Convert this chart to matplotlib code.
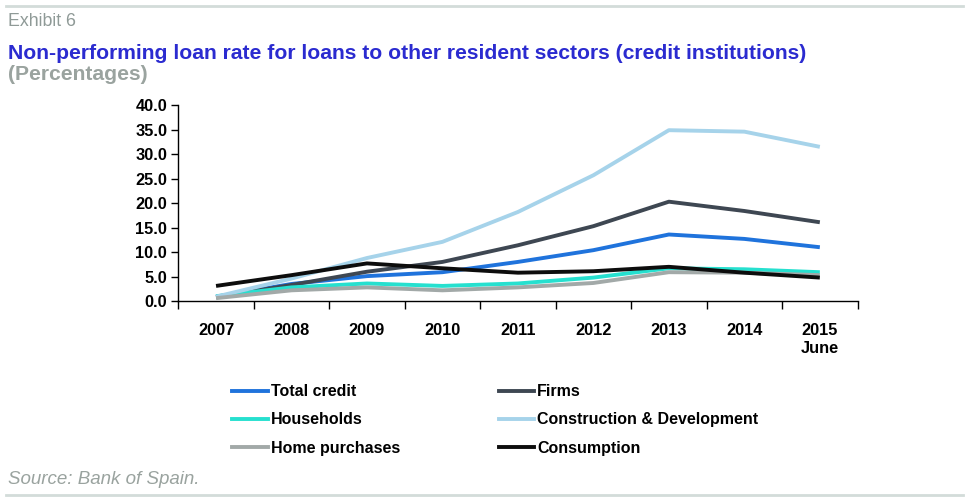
import matplotlib.pyplot as plt
from matplotlib.lines import Line2D
import numpy as np

plt.rcParams['font.family'] = ['Liberation Sans', 'DejaVu Sans']

years = ["2007", "2008", "2009", "2010", "2011", "2012", "2013", "2014", "2015\nJune"]
total_credit = [0.9, 3.5, 5.1, 5.9, 8.0, 10.4, 13.6, 12.7, 11.0]
firms = [0.8, 3.3, 6.0, 8.0, 11.4, 15.3, 20.3, 18.4, 16.1]
households = [1.0, 2.8, 3.6, 3.1, 3.6, 4.8, 6.7, 6.5, 5.9]
construction = [0.9, 4.6, 8.8, 12.1, 18.2, 25.7, 34.9, 34.6, 31.5]
home_purchases = [0.6, 2.2, 2.8, 2.2, 2.8, 3.7, 5.9, 5.8, 5.3]
consumption = [3.1, 5.3, 7.7, 6.7, 5.8, 6.1, 7.0, 5.8, 4.8]

series = [
    ("Total credit", total_credit, "#1f73dc"),
    ("Firms", firms, "#3e4752"),
    ("Households", households, "#26e0cf"),
    ("Construction & Development", construction, "#a6d3ea"),
    ("Home purchases", home_purchases, "#a2a9a8"),
    ("Consumption", consumption, "#0d0d0d"),
]

fig = plt.figure(figsize=(9.69, 5.01), dpi=100)
ax = fig.add_axes([0.184, 0.399, 0.701, 0.391])

x = np.arange(len(years))
# grey and cyan go underneath
order = [4, 2, 3, 1, 0, 5]
for i in order:
    name, vals, col = series[i]
    ax.plot(x, vals, color=col, lw=2.8, solid_capstyle='butt', zorder=2 + i)

ax.set_xlim(-0.5, len(years) - 0.5)
ax.set_ylim(0, 40)
yt = np.arange(0, 41, 5)
ax.set_yticks(yt)
ax.set_yticklabels([f"{v:.1f}" for v in yt], fontsize=11.8, fontweight='bold')
ax.set_xticks(x)
ax.set_xticklabels(years, fontsize=11.8, fontweight='bold')
ax.set_xticks(np.arange(-0.5, len(years), 1), minor=True)
ax.tick_params(axis='x', which='major', length=0, pad=16)
ax.tick_params(axis='x', which='minor', length=6, width=1, direction='out')
ax.tick_params(axis='y', length=5, width=1, direction='out', pad=3)
for s in ['top', 'right']:
    ax.spines[s].set_visible(False)
ax.spines['left'].set_linewidth(1)
ax.spines['bottom'].set_linewidth(1)

# header and footer
fig.add_artist(Line2D([0.006, 0.994], [0.988, 0.988], color="#d3dcd9", lw=2))
fig.add_artist(Line2D([0.006, 0.994], [0.012, 0.012], color="#d3dcd9", lw=2))
fig.text(0.008, 0.958, "Exhibit 6", fontsize=12.8, color="#8f9a97", va='center')
fig.text(0.008, 0.893, "Non-performing loan rate for loans to other resident sectors (credit institutions)",
         fontsize=15.2, fontweight='bold', color="#2b2bd0", va='center')
fig.text(0.008, 0.852, "(Percentages)", fontsize=15.2, fontweight='bold', color="#9aa39f", va='center')
fig.text(0.008, 0.043, "Source: Bank of Spain.", fontsize=13.5, style='italic', color="#9aa39f", va='center')

# legend, filled column-wise
handles = [Line2D([0], [0], color=c, lw=2.8) for _, _, c in series]
labels = [n for n, _, _ in series]
idx = [0, 2, 4, 1, 3, 5]
leg = fig.legend([handles[i] for i in idx], [labels[i] for i in idx],
                 loc='upper left', bbox_to_anchor=(0.225, 0.262), ncol=2,
                 frameon=False, handlelength=2.2, handletextpad=0.2,
                 columnspacing=6.2, labelspacing=0.83,
                 prop={'size': 11.5, 'weight': 'bold'})

fig.savefig("out.png", dpi=100)
